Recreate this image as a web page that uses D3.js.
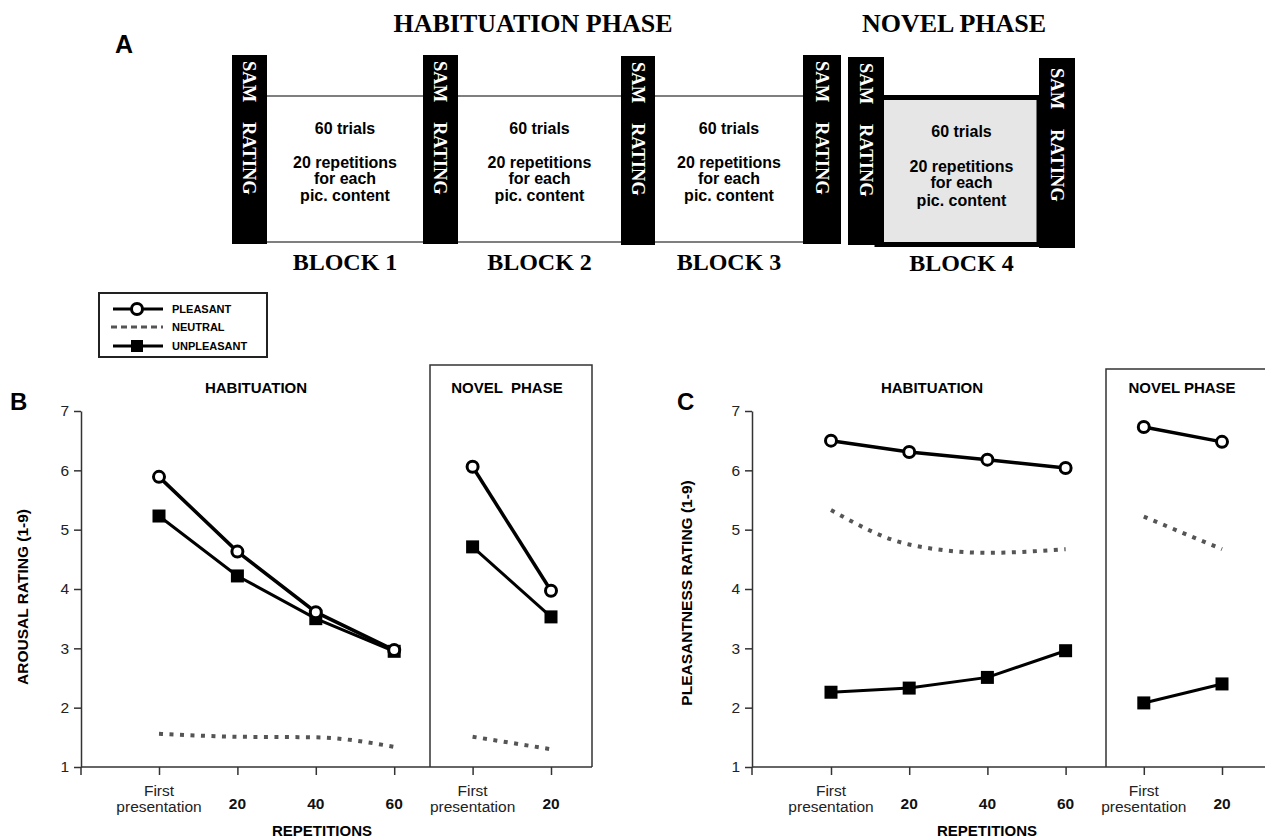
<!DOCTYPE html>
<html>
<head>
<meta charset="utf-8">
<script src="https://cdn.jsdelivr.net/npm/d3@7"></script>
<style>
  html, body { margin: 0; padding: 0; background: #fff; }
  svg { display: block; }
</style>
</head>
<body>
<svg id="chart" width="1265" height="840"></svg>
<script>
// ---------------- DATA ----------------
const phaseLabels = ["HABITUATION PHASE", "NOVEL PHASE"];
const blockLabels = ["BLOCK 1", "BLOCK 2", "BLOCK 3", "BLOCK 4"];
const blockTextLines = ["60 trials", "20 repetitions", "for each", "pic. content"];
const samLabel = ["SAM", "RATING"];

const seriesNames = ["PLEASANT", "NEUTRAL", "UNPLEASANT"];
const habCategories = ["First presentation", "20", "40", "60"];
const novelCategories = ["First presentation", "20"];
const yTicks = [1, 2, 3, 4, 5, 6, 7];

// Panel B: arousal rating
const arousalPleasantHab   = [5.89, 4.63, 3.61, 2.97];
const arousalPleasantNov   = [6.06, 3.97];
const arousalNeutralHab    = [1.56, 1.51, 1.50, 1.34];
const arousalNeutralNov    = [1.51, 1.30];
const arousalUnpleasantHab = [5.23, 4.22, 3.50, 2.95];
const arousalUnpleasantNov = [4.71, 3.53];

// Panel C: pleasantness rating
const pleasPleasantHab   = [6.50, 6.31, 6.18, 6.04];
const pleasPleasantNov   = [6.73, 6.48];
const pleasNeutralHab    = [5.33, 4.75, 4.61, 4.67];
const pleasNeutralNov    = [5.22, 4.67];
const pleasUnpleasantHab = [2.26, 2.33, 2.51, 2.96];
const pleasUnpleasantNov = [2.08, 2.40];

// ---------------- LAYOUT ----------------
const svg = d3.select("#chart");
const SANS = "Liberation Sans, Arial, Helvetica, sans-serif";
const SERIF = "Liberation Serif, Times New Roman, serif";

// ===== Panel A (schematic) =====
const A = {
  bars: [ {x0:232,x1:267,y0:55,y1:244}, {x0:423,x1:458,y0:55,y1:244},
          {x0:621,x1:655,y0:56,y1:245}, {x0:803,x1:841,y0:55,y1:244},
          {x0:848,x1:884,y0:57,y1:245}, {x0:1039,x1:1075,y0:58,y1:248} ],
  lineTop: 96, lineBottom: 242,
  textY: [134, 168, 184, 201], textY4: [137, 172, 188, 206],
  blockLabelY: 270
};
const gA = svg.append("g");
gA.append("text").attr("x", 115).attr("y", 53).attr("font-family", SANS)
  .attr("font-weight", "bold").attr("font-size", 25).text("A");
gA.append("text").attr("x", 533).attr("y", 32).attr("text-anchor", "middle")
  .attr("font-family", SERIF).attr("font-weight", "bold").attr("font-size", 26).text(phaseLabels[0]);
gA.append("text").attr("x", 954).attr("y", 32).attr("text-anchor", "middle")
  .attr("font-family", SERIF).attr("font-weight", "bold").attr("font-size", 26).text(phaseLabels[1]);

// habituation blocks (thin lines)
const habBlocks = [0, 1, 2].map(i => ({ x0: A.bars[i].x1, x1: A.bars[i + 1].x0 }));
habBlocks.forEach((b, i) => {
  [A.lineTop, A.lineBottom].forEach(y => {
    gA.append("line").attr("x1", b.x0).attr("x2", b.x1).attr("y1", y).attr("y2", y)
      .attr("stroke", "#555").attr("stroke-width", 1.6);
  });
  const cx = (b.x0 + b.x1) / 2;
  blockTextLines.forEach((t, j) => {
    gA.append("text").attr("x", cx).attr("y", A.textY[j]).attr("text-anchor", "middle")
      .attr("font-family", SANS).attr("font-weight", "bold").attr("font-size", 16).text(t);
  });
  gA.append("text").attr("x", cx).attr("y", A.blockLabelY).attr("text-anchor", "middle")
    .attr("font-family", SERIF).attr("font-weight", "bold").attr("font-size", 24).text(blockLabels[i]);
});
// novel block (thick grey box)
const nb = { x0: 877, x1: A.bars[5].x0, y0: 97.5, y1: 244.5 };
gA.append("rect").attr("x", nb.x0).attr("y", nb.y0).attr("width", nb.x1 - nb.x0)
  .attr("height", nb.y1 - nb.y0).attr("fill", "#e6e6e6").attr("stroke", "#000").attr("stroke-width", 5);
const ncx = (A.bars[4].x1 + A.bars[5].x0) / 2;
blockTextLines.forEach((t, j) => {
  gA.append("text").attr("x", ncx).attr("y", A.textY4[j]).attr("text-anchor", "middle")
    .attr("font-family", SANS).attr("font-weight", "bold").attr("font-size", 16).text(t);
});
gA.append("text").attr("x", ncx).attr("y", A.blockLabelY + 1).attr("text-anchor", "middle")
  .attr("font-family", SERIF).attr("font-weight", "bold").attr("font-size", 24).text(blockLabels[3]);

// SAM rating bars
A.bars.forEach((b, i) => {
  gA.append("rect").attr("x", b.x0).attr("y", b.y0).attr("width", b.x1 - b.x0)
    .attr("height", b.y1 - b.y0).attr("fill", "#000");
  const cx = (b.x0 + b.x1) / 2;
  const off = i === 5 ? 4 : 0;
  gA.append("text").attr("transform", `translate(${cx},${b.y0 + 6 + off}) rotate(90)`)
    .attr("dy", "0.33em").attr("fill", "#fff").attr("font-family", SERIF)
    .attr("font-weight", "bold").attr("font-size", 18.5).text(samLabel[0]);
  gA.append("text").attr("transform", `translate(${cx},${b.y0 + 67 + off}) rotate(90)`)
    .attr("dy", "0.33em").attr("fill", "#fff").attr("font-family", SERIF)
    .attr("font-weight", "bold").attr("font-size", 18.5).text(samLabel[1]);
});

// ===== Legend =====
const gL = svg.append("g");
gL.append("rect").attr("x", 99).attr("y", 293).attr("width", 168).attr("height", 64)
  .attr("fill", "none").attr("stroke", "#222").attr("stroke-width", 2);
const legY = [309, 327, 346];
seriesNames.forEach((name, i) => {
  const y = legY[i];
  if (i === 1) {
    gL.append("line").attr("x1", 111).attr("x2", 163).attr("y1", y).attr("y2", y)
      .attr("stroke", "#555").attr("stroke-width", 3).attr("stroke-dasharray", "6,4");
  } else {
    gL.append("line").attr("x1", 113).attr("x2", 163).attr("y1", y).attr("y2", y)
      .attr("stroke", "#000").attr("stroke-width", 3);
    if (i === 0) {
      gL.append("circle").attr("cx", 137).attr("cy", y).attr("r", 5.5)
        .attr("fill", "#fff").attr("stroke", "#000").attr("stroke-width", 3);
    } else {
      gL.append("rect").attr("x", 131).attr("y", y - 6).attr("width", 12).attr("height", 12).attr("fill", "#000");
    }
  }
  gL.append("text").attr("x", 172).attr("y", y + 4).attr("font-family", SANS)
    .attr("font-weight", "bold").attr("font-size", 11).text(name);
});

// ===== Panels B & C =====
function panel(cfg) {
  const g = svg.append("g");
  const y = d3.scaleLinear().domain([1, 7]).range([767, 411]);
  const x = d3.scaleLinear().domain([0, 5]).range(cfg.xRange);

  // novel phase box
  g.append("path")
    .attr("d", `M${cfg.boxLeft},767 V${cfg.boxTop} H${cfg.boxRight} V767`)
    .attr("fill", "none").attr("stroke", "#333").attr("stroke-width", 1.5);

  // y axis
  const ya = g.append("g").attr("transform", `translate(${cfg.axisX},0)`)
    .call(d3.axisLeft(y).tickValues(yTicks).tickSize(7).tickSizeOuter(0).tickPadding(5).tickFormat(d3.format("d")));
  ya.select(".domain").attr("stroke", "#333").attr("stroke-width", 1.5);
  ya.selectAll(".tick line").attr("stroke", "#333").attr("stroke-width", 1.5);
  ya.selectAll(".tick text").attr("font-family", SANS).attr("font-size", 15.5).attr("fill", "#222");

  // x axis
  g.append("line").attr("x1", cfg.axisX).attr("x2", cfg.boxRight).attr("y1", 767).attr("y2", 767)
    .attr("stroke", "#333").attr("stroke-width", 1.5);
  const xa = g.append("g").attr("transform", "translate(0,767)")
    .call(d3.axisBottom(x).tickValues([0, 1, 2, 3, 4, 5]).tickSize(8).tickSizeOuter(0).tickFormat(""));
  xa.select(".domain").remove();
  xa.selectAll(".tick line").attr("stroke", "#333").attr("stroke-width", 1.5);
  g.append("line").attr("x1", cfg.axisX).attr("x2", cfg.axisX).attr("y1", 767).attr("y2", 775)
    .attr("stroke", "#333").attr("stroke-width", 1.5);

  const cats = habCategories.concat(novelCategories);
  cats.forEach((c, i) => {
    if (c === "First presentation") {
      g.append("text").attr("x", x(i)).attr("y", 796).attr("text-anchor", "middle")
        .attr("font-family", SANS).attr("font-size", 15.5).attr("fill", "#222").text("First");
      g.append("text").attr("x", x(i)).attr("y", 812).attr("text-anchor", "middle")
        .attr("font-family", SANS).attr("font-size", 15.5).attr("fill", "#222").text("presentation");
    } else {
      g.append("text").attr("x", x(i)).attr("y", 809).attr("text-anchor", "middle")
        .attr("font-family", SANS).attr("font-weight", "bold").attr("font-size", 15.5).attr("fill", "#111").text(c);
    }
  });

  // titles
  g.append("text").attr("x", cfg.letterX).attr("y", 410).attr("font-family", SANS)
    .attr("font-weight", "bold").attr("font-size", 24).text(cfg.letter);
  g.append("text").attr("x", cfg.habTitleX).attr("y", 393).attr("text-anchor", "middle")
    .attr("font-family", SANS).attr("font-weight", "bold").attr("font-size", 15).text("HABITUATION");
  g.append("text").attr("x", cfg.novTitleX).attr("y", 393).attr("text-anchor", "middle")
    .attr("font-family", SANS).attr("font-weight", "bold").attr("font-size", 15)
    .attr("xml:space", "preserve").style("white-space", "pre").text(cfg.novTitle);
  g.append("text").attr("x", cfg.repX).attr("y", 836).attr("text-anchor", "middle")
    .attr("font-family", SANS).attr("font-weight", "bold").attr("font-size", 15).text("REPETITIONS");
  g.append("text").attr("transform", `translate(${cfg.yTitleX},${cfg.yTitleY}) rotate(-90)`)
    .attr("text-anchor", "middle").attr("font-family", SANS).attr("font-weight", "bold")
    .attr("font-size", 15.5).text(cfg.yTitle);

  // series
  const line = d3.line().x(d => x(d.i)).y(d => y(d.v));
  const curve = d3.line().x(d => x(d.i)).y(d => y(d.v)).curve(d3.curveMonotoneX);
  const pts = (arr, off) => arr.map((v, k) => ({ i: k + off, v }));

  [[cfg.neuHab, 0], [cfg.neuNov, 4]].forEach(([arr, off]) => {
    g.append("path").attr("d", curve(pts(arr, off))).attr("fill", "none")
      .attr("stroke", "#555").attr("stroke-width", 4).attr("stroke-dasharray", "4,6.5");
  });
  [[cfg.unpHab, 0], [cfg.unpNov, 4]].forEach(([arr, off]) => {
    const p = pts(arr, off);
    g.append("path").attr("d", line(p)).attr("fill", "none").attr("stroke", "#000").attr("stroke-width", 3);
    g.selectAll(null).data(p).enter().append("rect")
      .attr("x", d => x(d.i) - 6.5).attr("y", d => y(d.v) - 6.5).attr("width", 13).attr("height", 13).attr("fill", "#000");
  });
  [[cfg.pleHab, 0], [cfg.pleNov, 4]].forEach(([arr, off]) => {
    const p = pts(arr, off);
    g.append("path").attr("d", line(p)).attr("fill", "none").attr("stroke", "#000").attr("stroke-width", 3.5);
    g.selectAll(null).data(p).enter().append("circle")
      .attr("cx", d => x(d.i)).attr("cy", d => y(d.v)).attr("r", 5.5)
      .attr("fill", "#fff").attr("stroke", "#000").attr("stroke-width", 3);
  });
}

panel({
  letter: "B", letterX: 10, axisX: 81, xRange: [159, 551],
  boxLeft: 430, boxRight: 592, boxTop: 365,
  habTitleX: 256, novTitleX: 507, novTitle: "NOVEL  PHASE", repX: 322,
  yTitle: "AROUSAL RATING (1-9)", yTitleX: 28, yTitleY: 597,
  pleHab: arousalPleasantHab, pleNov: arousalPleasantNov,
  neuHab: arousalNeutralHab, neuNov: arousalNeutralNov,
  unpHab: arousalUnpleasantHab, unpNov: arousalUnpleasantNov
});
panel({
  letter: "C", letterX: 677, axisX: 752, xRange: [831, 1222],
  boxLeft: 1106, boxRight: 1275, boxTop: 369,
  habTitleX: 932, novTitleX: 1182, novTitle: "NOVEL PHASE", repX: 987,
  yTitle: "PLEASANTNESS RATING (1-9)", yTitleX: 692, yTitleY: 593,
  pleHab: pleasPleasantHab, pleNov: pleasPleasantNov,
  neuHab: pleasNeutralHab, neuNov: pleasNeutralNov,
  unpHab: pleasUnpleasantHab, unpNov: pleasUnpleasantNov
});
</script>
</body>
</html>
